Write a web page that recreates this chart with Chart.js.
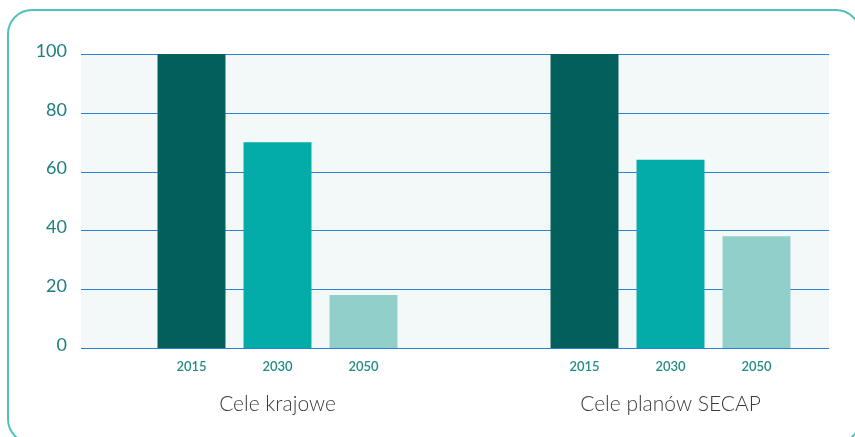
<!DOCTYPE html>
<html>
<head>
<meta charset="utf-8">
<script src="https://cdn.jsdelivr.net/npm/chart.js@4"></script>
<style>
    html, body { margin: 0; padding: 0; background: #ffffff; overflow: hidden; }
    body { width: 855px; height: 437px; position: relative; }
    .box {
        position: absolute; left: 7px; top: 9px; width: 850px; height: 431px;
        border: 2px solid #4fc3bb; border-radius: 25px; background: #ffffff;
    }
    .wrap { position: absolute; left: 0; top: 0; width: 900px; height: 437px; }
</style>
</head>
<body>
<div class="box"></div>
<div class="wrap"><canvas id="chart" width="900" height="437"></canvas></div>
<script>
// --- données ---
const groups = ['Cele krajowe', 'Cele planów SECAP'];
const years = ['2015', '2030', '2050'];
const values2015 = [100, 100];
const values2030 = [70, 64];
const values2050 = [18, 38];
const barColors = ['#025f5c', '#03aca8', '#91cfca'];
const yTicks = [0, 20, 40, 60, 80, 100];

// fond + lignes de grille (seulement jusqu'à x=829 comme dans l'original)
const plotBackground = {
    id: 'plotBackground',
    beforeDatasetsDraw(chart) {
        const { ctx, chartArea, scales } = chart;
        const left = chartArea.left;
        const right = 829;
        ctx.save();
        ctx.fillStyle = '#f3f8f8';
        ctx.fillRect(left, chartArea.top, right - left, chartArea.bottom - chartArea.top);
        ctx.strokeStyle = '#2f80d0';
        ctx.lineWidth = 1;
        yTicks.forEach(v => {
            const y = Math.round(scales.y.getPixelForValue(v)) + 0.5;
            ctx.beginPath();
            ctx.moveTo(left, y);
            ctx.lineTo(right, y);
            ctx.stroke();
        });
        ctx.restore();
    }
};

// étiquettes des années sous chaque barre
const yearLabels = {
    id: 'yearLabels',
    afterDatasetsDraw(chart) {
        const { ctx, chartArea } = chart;
        ctx.save();
        ctx.font = '600 13px Lato';
        ctx.fillStyle = '#238a85';
        ctx.textAlign = 'center';
        ctx.textBaseline = 'middle';
        chart.data.datasets.forEach((ds, i) => {
            chart.getDatasetMeta(i).data.forEach(bar => {
                ctx.fillText(ds.label, bar.x, chartArea.bottom + 19);
            });
        });
        ctx.restore();
    }
};

new Chart(document.getElementById('chart'), {
    type: 'bar',
    data: {
        labels: groups,
        datasets: [
            { label: years[0], data: values2015, backgroundColor: barColors[0] },
            { label: years[1], data: values2030, backgroundColor: barColors[1] },
            { label: years[2], data: values2050, backgroundColor: barColors[2] }
        ]
    },
    options: {
        responsive: false,
        animation: false,
        categoryPercentage: 0.6565,
        barPercentage: 0.79,
        layout: { padding: { left: 0, right: 33, top: 54, bottom: 0 } },
        plugins: {
            legend: { display: false },
            tooltip: { enabled: false }
        },
        scales: {
            x: {
                grid: { display: false, drawTicks: false },
                border: { display: false },
                ticks: {
                    color: '#3a3a3a',
                    font: { family: 'Lato', size: 21, weight: 300 },
                    padding: 44
                },
                afterFit(scale) { scale.height = 89; }
            },
            y: {
                min: 0,
                max: 100,
                grid: { display: false, drawTicks: false },
                border: { display: false },
                ticks: {
                    stepSize: 20,
                    color: '#1b7f7b',
                    font: { family: 'Lato', size: 18 },
                    padding: 14,
                    labelOffset: -3
                },
                afterFit(scale) { scale.width = 81; }
            }
        }
    },
    plugins: [plotBackground, yearLabels]
});
</script>
</body>
</html>
